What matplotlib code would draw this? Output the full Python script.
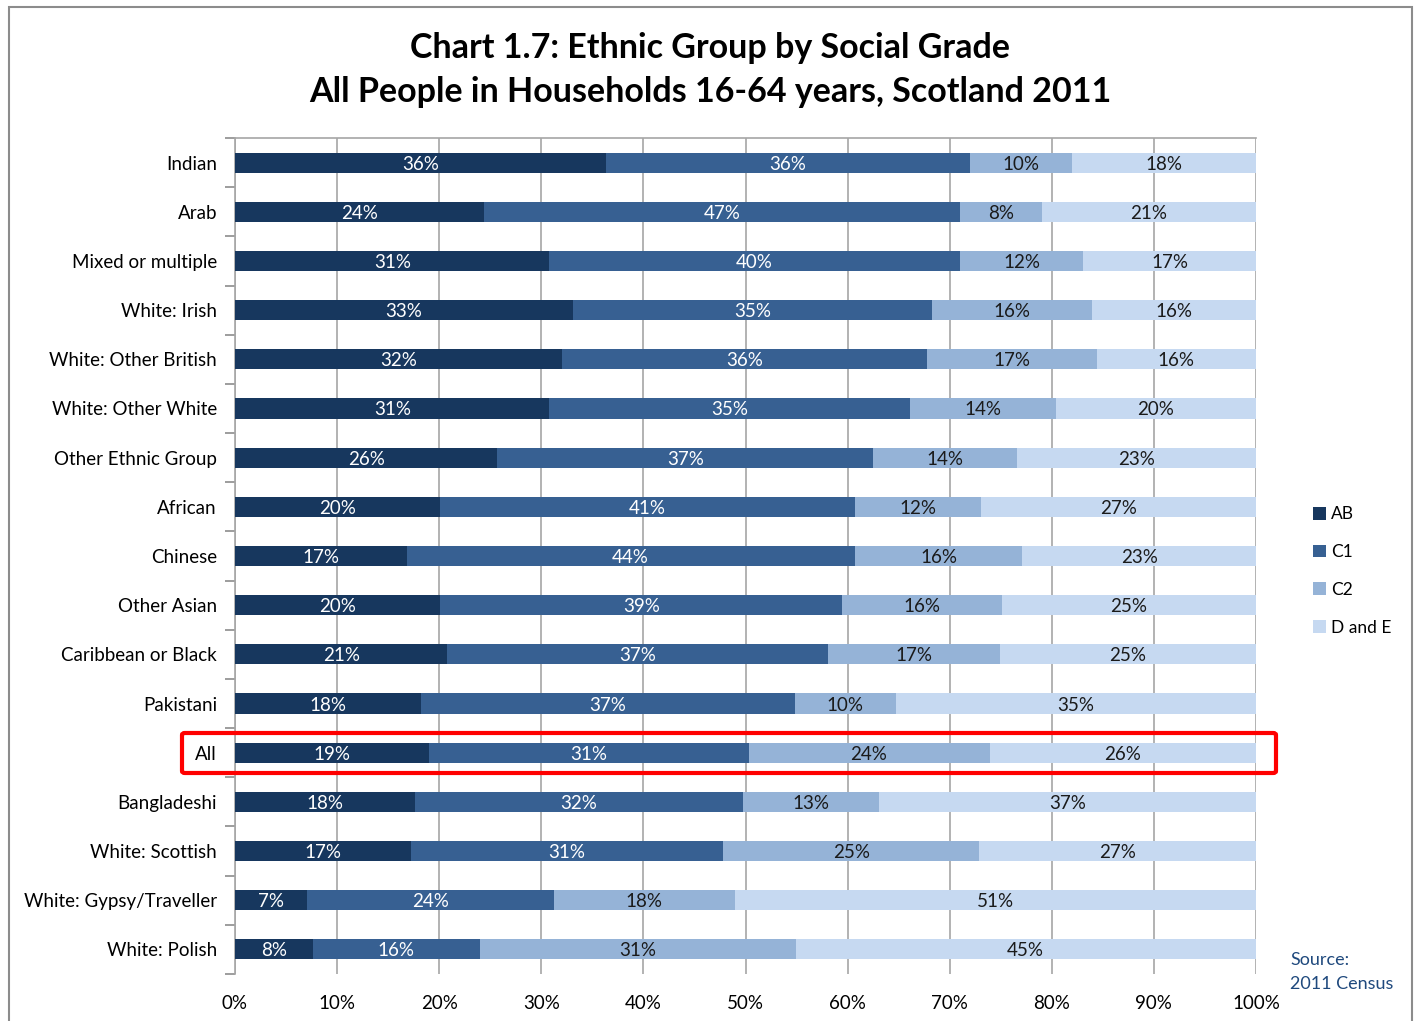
import matplotlib
matplotlib.use("Agg")
import matplotlib.pyplot as plt
from matplotlib.patches import FancyBboxPatch, Rectangle
import numpy as np

plt.rcParams['font.family'] = ['Lato', 'DejaVu Sans']

categories = ["Indian", "Arab", "Mixed or multiple", "White: Irish", "White: Other British",
              "White: Other White", "Other Ethnic Group", "African", "Chinese", "Other Asian",
              "Caribbean or Black", "Pakistani", "All", "Bangladeshi", "White: Scottish",
              "White: Gypsy/Traveller", "White: Polish"]
ab = [36.3, 24.4, 30.8, 33.1, 32.0, 30.8, 25.7, 20.1, 16.8, 20.1, 20.8, 18.2, 19.0, 17.6, 17.2, 7.1, 7.6]
c1 = [35.7, 46.6, 40.2, 35.2, 35.8, 35.3, 36.8, 40.6, 43.9, 39.4, 37.3, 36.6, 31.3, 32.2, 30.6, 24.1, 16.4]
c2 = [10.0, 8.0, 12.1, 15.6, 16.6, 14.3, 14.1, 12.4, 16.4, 15.6, 16.8, 9.9, 23.6, 13.3, 25.1, 17.8, 30.9]
de = [18.0, 21.0, 16.9, 16.1, 15.6, 19.6, 23.4, 26.9, 22.9, 24.9, 25.1, 35.3, 26.1, 36.9, 27.1, 51.0, 45.1]
series_names = ["AB", "C1", "C2", "D and E"]
colors = ["#17375E", "#376092", "#95B3D7", "#C6D9F1"]
text_colors = ["white", "white", "#1a1a1a", "#1a1a1a"]
xticks = [0, 10, 20, 30, 40, 50, 60, 70, 80, 90, 100]

W, H = 1419, 1021
fig = plt.figure(figsize=(W / 100, H / 100), dpi=100)

# figure border
fig.patches.append(Rectangle((9 / W, -0.01), (1412 - 9) / W, 1 - 7 / H + 0.01,
                             transform=fig.transFigure, fill=False,
                             edgecolor="#8c8c8c", linewidth=1.5))

ax = fig.add_axes([235 / W, 1 - 974 / H, (1256 - 235) / W, (974 - 138) / H])
n = len(categories)
y = np.arange(n)
left = np.zeros(n)
for vals, name, col, tc in zip([ab, c1, c2, de], series_names, colors, text_colors):
    vals = np.array(vals)
    ax.barh(y, vals, left=left, height=0.41, color=col, label=name, zorder=3)
    for yi, l, v in zip(y, left, vals):
        ax.text(l + v / 2, yi + 0.03, f"{v:.0f}%", ha="center", va="center",
                color=tc, fontsize=13.5, zorder=4)
    left = left + vals

ax.set_xlim(0, 100)
ax.set_ylim(n - 0.5, -0.5)
ax.set_xticks(xticks)
ax.set_xticklabels([f"{t}%" for t in xticks], fontsize=13.5)
ax.set_yticks(y)
ax.set_yticklabels(categories, fontsize=13.5)
ax.set_yticks(np.arange(n + 1) - 0.5, minor=True)
ax.tick_params(axis="y", which="major", length=0, pad=13)
ax.tick_params(axis="y", which="minor", length=7, color="#8c8c8c", width=1.2)
ax.tick_params(axis="x", length=0, pad=15)
ax.grid(axis="x", color="#a6a6a6", linewidth=1.2, zorder=0)
for s in ["right", "bottom"]:
    ax.spines[s].set_visible(False)
for s in ["left", "top"]:
    ax.spines[s].set_color("#a6a6a6")
    ax.spines[s].set_linewidth(1.2)

fig.text(710 / W, 1 - 48 / H, "Chart 1.7: Ethnic Group by Social Grade",
         ha="center", va="center", fontsize=24.5, fontweight="bold")
fig.text(710 / W, 1 - 92 / H, "All People in Households 16-64 years, Scotland 2011",
         ha="center", va="center", fontsize=24.5, fontweight="bold")

handles, labels = ax.get_legend_handles_labels()
fig.legend(handles, labels, loc="center left", bbox_to_anchor=(1297 / W, 1 - 571 / H),
           frameon=False, fontsize=12.5, handlelength=0.75, handleheight=0.75,
           handletextpad=0.3, labelspacing=1.25)

fig.text(1290 / W, 1 - 960 / H, "Source:", color="#1F497D", fontsize=13,
         ha="left", va="center")
fig.text(1290 / W, 1 - 984 / H, "2011 Census", color="#1F497D", fontsize=13,
         ha="left", va="center")

# red highlight around "All"
fig.patches.append(FancyBboxPatch((182 / W, 1 - 773 / H), (1276 - 182) / W, (773 - 733) / H,
                                  boxstyle="round,pad=0,rounding_size=0.002",
                                  transform=fig.transFigure, fill=False,
                                  edgecolor="#FF0000", linewidth=3, zorder=10))

fig.savefig("out.png", dpi=100)
